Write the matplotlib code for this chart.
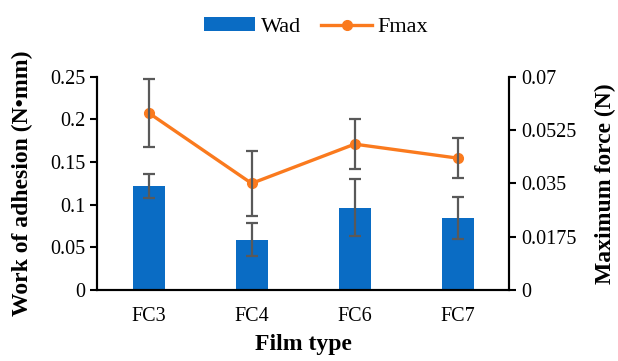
import numpy as np
import matplotlib
matplotlib.use('Agg')
import matplotlib.pyplot as plt

# data
films = ['FC3', 'FC4', 'FC6', 'FC7']
wad = [0.122, 0.059, 0.0966, 0.0845]
wad_err = [0.014, 0.019, 0.0335, 0.025]
fmax = [0.0582, 0.0350, 0.0479, 0.0433]
fmax_err = [0.0111, 0.0106, 0.0083, 0.0065]
left_ticks = [0, 0.05, 0.1, 0.15, 0.2, 0.25]
left_labels = ['0', '0.05', '0.1', '0.15', '0.2', '0.25']
right_ticks = [0, 0.0175, 0.035, 0.0525, 0.07]
right_labels = ['0', '0.0175', '0.035', '0.0525', '0.07']

plt.rcParams['font.family'] = ['Liberation Serif', 'DejaVu Serif']

blue = '#0A6CC4'
orange = '#FA7A1E'
grey = '#595959'

fig = plt.figure(figsize=(6.18, 3.61), dpi=100)
ax = fig.add_axes([0.157, 0.197, 0.667, 0.590])
ax2 = ax.twinx()

x = np.arange(len(films))
ax.bar(x, wad, width=0.31, color=blue, zorder=2, label='Wad')
ax.errorbar(x, wad, yerr=wad_err, fmt='none', ecolor=grey, elinewidth=1.6,
            capsize=4.5, capthick=1.6, zorder=3)

ax2.plot(x, fmax, color=orange, lw=2.4, marker='o', ms=7, zorder=2, label='Fmax')
ax2.errorbar(x, fmax, yerr=fmax_err, fmt='none', ecolor=grey, elinewidth=1.6,
             capsize=4.5, capthick=1.6, zorder=3)

ax.set_xlim(-0.5, 3.5)
ax.set_ylim(0, 0.25)
ax2.set_ylim(0, 0.07)
ax.set_yticks(left_ticks)
ax.set_yticklabels(left_labels)
ax2.set_yticks(right_ticks)
ax2.set_yticklabels(right_labels)
ax.set_xticks(x)
ax.set_xticklabels(films)

for a in (ax, ax2):
    a.spines['top'].set_visible(False)
    for s in ('left', 'right', 'bottom'):
        a.spines[s].set_linewidth(1.5)
    a.tick_params(labelsize=14.5, width=1.5, length=5)
ax.tick_params(axis='x', length=0, pad=12)
ax.set_zorder(ax2.get_zorder() - 1)
ax.patch.set_visible(False)

ax.set_xlabel('Film type', fontsize=17, fontweight='bold', labelpad=6)
ax.set_ylabel('Work of adhesion (N\u2022mm)', fontsize=17, fontweight='bold', labelpad=12)
ax2.set_ylabel('Maximum force (N)', fontsize=17, fontweight='bold', labelpad=13)

h1, l1 = ax.get_legend_handles_labels()
h2, l2 = ax2.get_legend_handles_labels()
fig.legend(h1 + h2, l1 + l2, loc='center', bbox_to_anchor=(0.512, 0.925),
           ncol=2, frameon=False, fontsize=16, handlelength=2.3, handleheight=0.55,
           columnspacing=0.9, handletextpad=0.25)

fig.savefig('out.png', dpi=100)
